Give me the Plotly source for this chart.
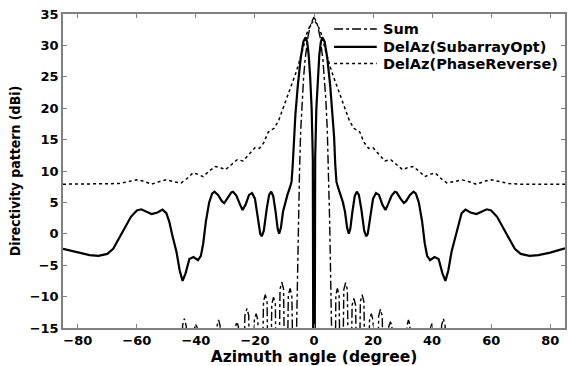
import plotly.graph_objects as go

# Sum pattern (dash-dot)
sum_x = [-85, -45.4, -44.5, -43.9, -43.3, -42.4, -40.9, -40.4, -40.0, -39.6, -39.1,
         -33.3, -32.8, -32.3, -31.8, -30.9, -27.3, -26.6, -26.1, -25.6, -24.5,
         -23.4, -22.7, -22.1, -21.2, -20.2, -19.6, -19.0, -18.1, -17.1, -16.5, -15.9,
         -15.1, -14.3, -13.7, -13.1, -12.3, -11.5, -10.9, -10.3, -9.5, -8.7, -8.1, -7.5,
         -6.9, -6.5, -5.9, -5.6, -5.3, -4.9, -4.5, -4.0, -3.5, -3.0, -2.0, -1.0, 0.0,
         1.0, 2.0, 3.0, 3.5, 4.0, 4.5, 4.9, 5.3, 5.6, 5.9, 6.5,
         6.9, 7.4, 7.9, 8.5, 9.3, 10.1, 10.7, 11.3, 12.1, 12.9, 13.5, 14.1, 14.9,
         15.7, 16.3, 16.9, 17.9, 18.8, 19.4, 20.0, 21.0, 21.9, 22.5, 23.1, 24.3,
         25.3, 25.9, 26.4, 27.1, 31.0, 31.5, 32.0, 32.5, 33.0, 39.0, 39.5, 39.9, 40.3, 40.8,
         42.3, 43.2, 43.8, 44.4, 45.3, 85]
sum_y = [-40, -40, -14.6, -13.5, -14.6, -40, -40, -14.9, -14.4, -14.9, -40,
         -40, -14.6, -13.7, -14.6, -40, -40, -14.8, -14.0, -14.8, -40,
         -13.0, -11.9, -13.0, -40, -13.8, -12.7, -13.8, -40, -10.8, -9.7, -10.8,
         -40, -11.2, -10.1, -11.2, -40, -8.8, -7.7, -8.8, -40, -9.8, -8.7, -9.8,
         -40, -40, -15, -6, 2, 10, 16.5, 21.5, 25, 27.8, 31.5, 33.6, 34.5,
         33.6, 31.5, 27.8, 25, 21.5, 16.5, 10, 2, -6, -15, -40,
         -40, -9.8, -8.7, -9.8, -40, -8.9, -7.8, -8.9, -40, -11.4, -10.3, -11.4, -40,
         -10.8, -9.7, -10.8, -40, -13.8, -12.7, -13.8, -40, -13.1, -12.0, -13.1, -40,
         -14.8, -14.0, -14.8, -40, -40, -14.6, -13.7, -14.6, -40, -40, -14.9, -14.3, -14.9, -40,
         -40, -14.6, -13.5, -14.6, -40, -40]

# DelAz (SubarrayOpt), solid
sub_x = [-85, -80, -76, -73, -70, -68, -66, -64, -62, -60, -58.5, -57, -55, -53, -51.3, -50,
         -49, -48, -46.6, -45.5, -44.5, -43.5, -42.2, -40.8, -39.3, -38.3, -37.5, -36.6,
         -35.5, -34.5, -33.7, -32.5, -31.2, -30.4, -29.3, -28.0, -27.4, -26.3, -25.0, -24.2,
         -23.2, -22.0, -21.0, -20.0, -19.0, -18.2, -17.7, -17.0, -16.0, -15.2, -14.5, -13.8,
         -13.0, -12.3, -11.8, -11.2, -10.5, -9.8, -9.0, -8.2, -7.6, -7.2, -6.8, -6.3, -5.5,
         -4.5, -3.6, -2.8, -2.3, -1.8, -1.3, -0.8, -0.4, -0.15,
         0.15, 0.4, 0.8, 1.3, 1.8, 2.3, 2.8, 3.6, 4.5, 5.5, 6.3, 6.8, 7.2, 7.6, 8.2, 9.0,
         9.8, 10.5, 11.2, 11.8, 12.3, 13.0, 13.8, 14.5, 15.2, 16.0, 17.0, 17.7, 18.2, 19.0,
         20.0, 21.0, 22.0, 23.2, 24.2, 25.0, 26.3, 27.4, 28.0, 29.3, 30.4, 31.2, 32.5, 33.7,
         34.5, 35.5, 36.6, 37.5, 38.3, 39.3, 40.8, 42.2, 43.5, 44.5, 45.5, 46.6, 48, 49, 50,
         51.3, 53, 55, 57, 58.5, 60, 62, 64, 66, 68, 70, 73, 76, 80, 85]
sub_y = [-2.4, -3.0, -3.4, -3.5, -3.2, -2.4, -0.8, 1.0, 2.7, 3.7, 3.9, 3.6, 3.15, 3.4, 3.85, 3.3,
         1.9, -0.2, -2.8, -5.8, -7.5, -6.3, -4.0, -3.7, -4.2, -3.5, -1.5, 2.0,
         5.0, 6.4, 6.7, 6.2, 5.2, 4.9, 5.6, 6.6, 6.7, 6.1, 4.6, 3.8,
         4.6, 6.2, 6.5, 5.6, 2.5, 0.0, -0.4, 0.5, 4.0, 6.2, 6.7, 6.0,
         3.5, 0.8, 0.0, 1.0, 3.5, 5.0, 6.2, 7.3, 8.3, 11, 15.5, 19, 23.5,
         28, 30.6, 31.3, 30.5, 28.5, 25, 20, 12, -40,
         -40, 12, 20, 25, 28.5, 30.5, 31.3, 30.6, 28, 23.5, 19, 15.5, 11, 8.3, 7.3, 6.2,
         5.0, 3.5, 1.0, 0.0, 0.8, 3.5, 6.0, 6.7, 6.2, 4.0, 0.5, -0.4, 0.0, 2.5,
         5.6, 6.5, 6.2, 4.6, 3.8, 4.6, 6.1, 6.7, 6.6, 5.6, 4.9, 5.2, 6.2, 6.7,
         6.4, 5.0, 2.0, -1.5, -3.5, -4.2, -3.7, -4.0, -6.3, -7.5, -5.8, -2.8, -0.2, 1.9, 3.3,
         3.85, 3.4, 3.15, 3.6, 3.9, 3.7, 2.7, 1.0, -0.8, -2.4, -3.2, -3.5, -3.4, -3.0, -2.3]

# DelAz (PhaseReverse), dotted
pr_x = [-85, -70, -66, -63, -60, -58, -55, -52.5, -50, -47.5, -45, -43, -41, -39.5, -37.5,
        -35.5, -33.5, -32, -30, -28, -26, -24, -22, -20, -18.5, -17, -15.5, -13.5, -12,
        -10, -8, -6, -4, -2.5, -1.2, 0,
        1.2, 2.5, 4, 6, 8, 10, 12, 13.5, 15.5, 17, 18.5, 20, 22, 24, 26, 28, 30, 32, 33.5,
        35.5, 37.5, 39.5, 41, 43, 45, 47.5, 50, 52.5, 55, 58, 60, 63, 66, 70, 85]
pr_y = [7.9, 7.9, 8.0, 8.3, 8.6, 8.4, 7.9, 8.3, 8.6, 8.3, 8.1, 8.8, 9.7, 9.5, 9.1,
        10.0, 10.7, 10.6, 10.2, 11.0, 11.8, 11.6, 12.6, 13.7, 13.6, 14.5, 16.2, 16.8, 18,
        20.5, 23.2, 25.8, 29, 31.8, 33.3, 34.0,
        33.3, 31.8, 29, 25.8, 23.2, 20.5, 18, 16.8, 16.2, 14.5, 13.6, 13.7, 12.6, 11.6, 11.8,
        11.0, 10.2, 10.6, 10.7, 10.0, 9.1, 9.5, 9.7, 8.8, 8.1, 8.3, 8.6, 8.3, 7.9, 8.4, 8.6,
        8.3, 8.0, 7.9, 7.9]

x_ticks = [-80, -60, -40, -20, 0, 20, 40, 60, 80]
y_ticks = [-15, -10, -5, 0, 5, 10, 15, 20, 25, 30, 35]

series_names = ["Sum", "DelAz(SubarrayOpt)", "DelAz(PhaseReverse)"]
series_dash = ["dashdot", "solid", "dot"]
series_width = [1.4, 2.2, 1.5]

wide = "DejaVu Sans, Liberation Sans, Arial, sans-serif"
narrow = "Liberation Sans Narrow, DejaVu Sans Condensed, Liberation Sans, sans-serif"

fig = go.Figure()
for (xs, ys), nm, dsh, w in zip([(sum_x, sum_y), (sub_x, sub_y), (pr_x, pr_y)],
                                series_names, series_dash, series_width):
    fig.add_trace(go.Scatter(x=xs, y=ys, mode="lines", name=nm, showlegend=False,
                             line=dict(color="black", width=w, dash=dsh)))

axis_common = dict(showline=True, mirror="ticks", linecolor="#808080", linewidth=1.5,
                   ticks="inside", ticklen=4, tickcolor="#808080", showgrid=False,
                   zeroline=False,
                   tickfont=dict(size=13, family=wide, color="black", weight="bold"))

fig.update_xaxes(range=[-85, 85], tickvals=x_ticks,
                 title=dict(text="Azimuth angle (degree)", standoff=1,
                            font=dict(size=15.5, family=wide, color="black", weight="bold")),
                 **axis_common)
fig.update_yaxes(range=[-15, 35], tickvals=y_ticks,
                 title=dict(text="Directivity pattern (dBi)", standoff=6,
                            font=dict(size=14, family=narrow, color="black", weight="bold")),
                 **axis_common)

# manual legend (samples + labels), placed in paper coordinates
leg_rows = [0.952, 0.895, 0.842]
for nm, dsh, w, ry in zip(series_names, series_dash, series_width, leg_rows):
    fig.add_shape(type="line", xref="paper", yref="paper", x0=0.540, x1=0.625, y0=ry, y1=ry,
                  line=dict(color="black", width=w, dash=dsh))
    fig.add_annotation(xref="paper", yref="paper", x=0.633, y=ry, text=nm, showarrow=False,
                       xanchor="left", yanchor="middle",
                       font=dict(size=14.5, family=wide, color="black", weight="bold"))

fig.update_layout(
    width=568, height=366,
    margin=dict(l=63, r=1, t=14, b=38),
    paper_bgcolor="white", plot_bgcolor="white",
    showlegend=False,
)

fig.write_html("out.html")
